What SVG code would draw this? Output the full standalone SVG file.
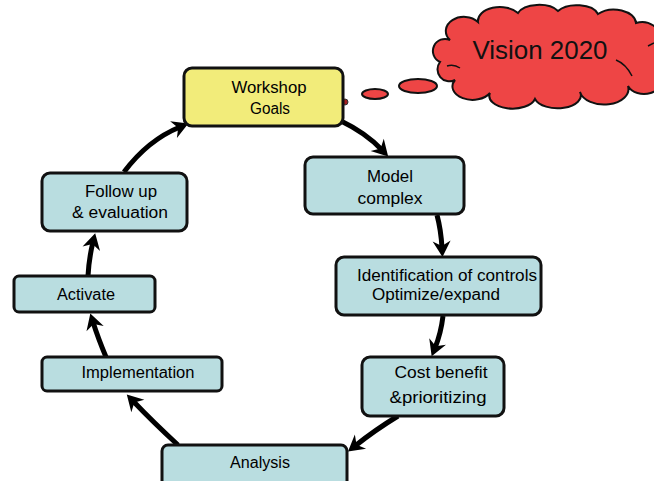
<svg xmlns="http://www.w3.org/2000/svg" width="654" height="481" viewBox="0 0 654 481">
<style>
.box{fill:#b9dde0;stroke:#111;stroke-width:3}
.goal{fill:#f2ec7a;stroke:#111;stroke-width:3}
.lbl{font-family:"Liberation Sans",Arial,sans-serif;font-size:16px;fill:#000;text-anchor:middle}
.arr{fill:none;stroke:#000;stroke-width:5;marker-end:url(#ah)}
.red{fill:#ee4545;stroke:#111;stroke-width:2}
</style>
<defs>
<marker id="ah" markerUnits="userSpaceOnUse" markerWidth="24" markerHeight="24" viewBox="-18 -12 24 24" refX="-9" refY="0" orient="auto">
<path d="M-16,-9 L0,0 L-16,9 L-11,0 Z" fill="#000"/>
</marker>
</defs>
<rect width="654" height="481" fill="#fff"/>
<g id="vision">
<path class="red" d="M440 62 A12 12 0 0 1 450 40 A18 14 0 0 1 478 22 A22 14 0 0 1 518 13 A22 12 0 0 1 558 11 A22 12 0 0 1 598 14 A22 14 0 0 1 636 23 A18 16 0 0 1 660 40 L660 76 A16 12 0 0 1 628 86 A22 14 0 0 1 580 92 A22 12 0 0 1 535 99 A22 12 0 0 1 490 93 A18 12 0 0 1 455 80 A12 12 0 0 1 440 62 Z"/>
<path d="M447 66 Q454 64 460 68 M616 60 Q626 64 632 76 M648 46 L654 43" fill="none" stroke="#111" stroke-width="1.5"/>
<text x="540" y="59" font-family="'Liberation Sans',Arial,sans-serif" font-size="26" text-anchor="middle" textLength="135" lengthAdjust="spacingAndGlyphs" fill="#111">Vision 2020</text>
<ellipse class="red" cx="418" cy="86" rx="19" ry="7"/>
<ellipse class="red" cx="375" cy="94" rx="13" ry="5"/>
<circle cx="345" cy="102" r="3" fill="#a02020" stroke="#333" stroke-width="1"/>
</g>
<g id="connectors">
<path class="arr" d="M124 172 Q148 140 180 127"/>
<path class="arr" d="M341 121 Q366 133 382 150"/>
<path class="arr" d="M437 215 Q441 230 442 248"/>
<path class="arr" d="M443 316 Q441 333 435 348"/>
<path class="arr" d="M398 416 Q375 430 355 446"/>
<path class="arr" d="M178 445 Q153 422 133 401"/>
<path class="arr" d="M106 357 Q98 338 93 322"/>
<path class="arr" d="M88 276 Q89 258 93 242"/>
</g>
<g id="workshop">
<rect class="goal" x="184" y="68" width="159" height="58" rx="8"/>
<text class="lbl" x="269" y="93" textLength="75" lengthAdjust="spacingAndGlyphs">Workshop</text>
<text class="lbl" x="270" y="114" textLength="40" lengthAdjust="spacingAndGlyphs">Goals</text>
</g>
<g id="model">
<rect class="box" x="305" y="157" width="159" height="57" rx="8"/>
<text class="lbl" x="390" y="182" textLength="46" lengthAdjust="spacingAndGlyphs">Model</text>
<text class="lbl" x="390" y="204" textLength="65" lengthAdjust="spacingAndGlyphs">complex</text>
</g>
<g id="identification">
<rect class="box" x="336" y="257" width="205" height="58" rx="8"/>
<text class="lbl" x="447" y="281" textLength="180" lengthAdjust="spacingAndGlyphs">Identification of controls</text>
<text class="lbl" x="436" y="300" textLength="128" lengthAdjust="spacingAndGlyphs">Optimize/expand</text>
</g>
<g id="cost">
<rect class="box" x="362" y="357" width="142" height="59" rx="8"/>
<text class="lbl" x="441" y="378" textLength="93" lengthAdjust="spacingAndGlyphs">Cost benefit</text>
<text class="lbl" x="438" y="403" textLength="97" lengthAdjust="spacingAndGlyphs">&amp;prioritizing</text>
</g>
<g id="analysis">
<rect class="box" x="162" y="445" width="185" height="60" rx="6"/>
<text class="lbl" x="260" y="468" textLength="60" lengthAdjust="spacingAndGlyphs">Analysis</text>
</g>
<g id="implementation">
<rect class="box" x="42" y="357" width="180" height="34" rx="5"/>
<text class="lbl" x="138" y="378" textLength="113" lengthAdjust="spacingAndGlyphs">Implementation</text>
</g>
<g id="activate">
<rect class="box" x="14" y="276" width="141" height="36" rx="5"/>
<text class="lbl" x="86" y="300" textLength="58" lengthAdjust="spacingAndGlyphs">Activate</text>
</g>
<g id="followup">
<rect class="box" x="42" y="173" width="145" height="58" rx="8"/>
<text class="lbl" x="121" y="197" textLength="72" lengthAdjust="spacingAndGlyphs">Follow up</text>
<text class="lbl" x="120" y="218" textLength="96" lengthAdjust="spacingAndGlyphs">&amp; evaluation</text>
</g>
</svg>
